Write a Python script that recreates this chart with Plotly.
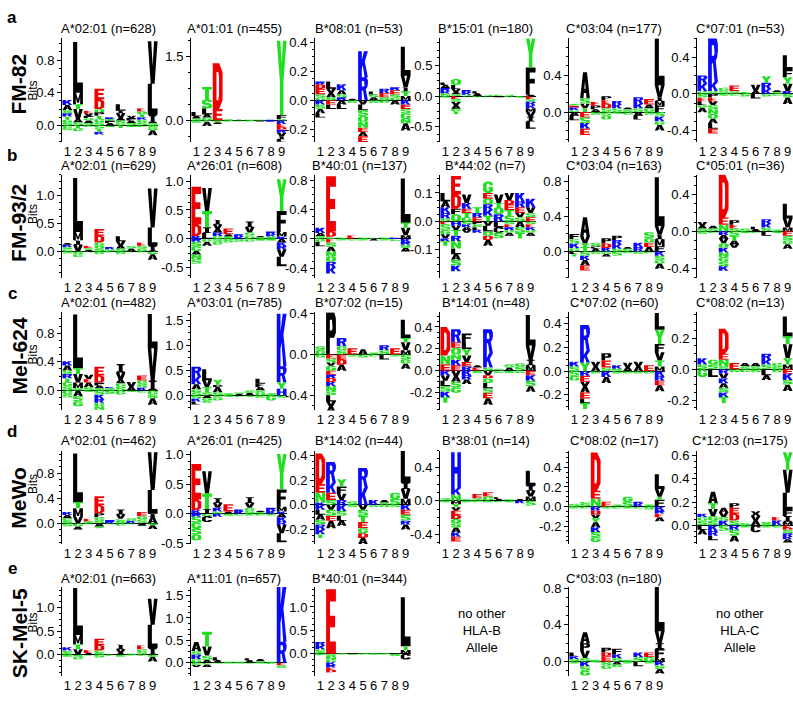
import plotly.graph_objects as go

W, H = 793, 704
FONT = "Liberation Sans, Arial, Helvetica, sans-serif"

# ---------------- data: letter stacks (letter, bits), bottom->top above 0, top->down below 0
A1_POS = [[("S",.04),("G",.03),("T",.04),("R",.04),("S",.04),("A",.06),("K",.06)],
          [("S",.04),("A",.04),("V",.12),("T",.06),("M",.14),("L",.62)],
          [("S",.03),("A",.03),("G",.03),("P",.03),("V",.03),("E",.03)],
          [("S",.04),("G",.04),("T",.04),("P",.04),("Q",.04),("D",.12),("E",.13)],
          [("A",.03),("P",.03),("S",.02),("K",.02)],
          [("G",.03),("S",.03),("A",.03),("V",.06),("I",.03),("L",.08)],
          [("S",.03),("A",.03),("P",.03),("V",.03)],
          [("S",.04),("G",.03),("K",.03),("T",.04),("Q",.03),("E",.04)],
          [("S",.03),("I",.1),("L",.38),("V",.52)]]
A1_NEG = [[("G",.03),("S",.03)],[("T",.03),("G",.04)],[("G",.02)],[("S",.04),("T",.04),("K",.03)],
          [("S",.02)],[("T",.03)],[("S",.02)],[("G",.02)],[("S",.03),("G",.03),("A",.06)]]

A2_POS = [[("S",.05),("A",.05),("L",.1)],
          [("G",.07),("A",.07),("L",.15),("S",.2),("T",.3)],
          [("E",.27),("D",1.08)],
          [("S",.03)],[("A",.02)],[("S",.02)],[("G",.02)],[("K",.02)],
          [("S",.03),("F",.1),("Y",1.75)]]
A2_NEG = [[("S",.05)],[("G",.03),("A",.1)],[("S",.04),("A",.04)],[("S",.02)],[("G",.02)],[("S",.02)],
          [("A",.02)],[("K",.03)],
          [("K",.08),("E",.07),("D",.07),("R",.07),("V",.08),("I",.07),("L",.06)]]

A3_POS = [[("G",.02),("S",.02),("E",.04),("D",.03),("R",.02)],
          [("S",.02),("A",.03),("V",.03),("L",.05)],
          [("R",.02),("S",.02),("A",.03),("K",.04)],
          [("A",.01)],
          [("R",.16),("K",.18)],
          [("A",.02),("S",.02),("L",.02)],
          [("S",.02),("E",.03),("R",.03)],
          [("G",.02),("S",.02),("E",.03),("R",.02)],
          [("M",.03),("T",.03),("I",.03),("V",.08),("L",.2)]]
A3_NEG = [[("K",.03),("S",.03),("A",.03),("L",.03)],[("E",.03),("L",.03)],[("A",.03),("L",.03)],[("S",.02)],
          [("V",.03),("L",.04),("S",.04),("Q",.04),("N",.04),("E",.03),("A",.03),("E",.04)],
          [("S",.02)],[("G",.02)],[("A",.03)],
          [("K",.03),("E",.03),("S",.03),("G",.04),("N",.03),("A",.05)]]

A4_POS = [[("S",.04),("K",.04),("R",.05),("A",.05),("L",.04)],
          [("S",.03),("A",.03),("V",.06),("L",.06),("Q",.1)],
          [("S",.02),("K",.04),("R",.04)],
          [("A",.04),("L",.04)],
          [("S",.02)],[("G",.02)],[("S",.02)],[("A",.01)],
          [("A",.02),("F",.45),("Y",.5)]]
A4_NEG = [[("S",.03)],[("E",.05),("S",.05),("V",.05),("A",.06),("G",.04),("T",.05)],[("S",.02)],
          [("G",.02)],[("S",.02)],[("A",.02)],[("G",.02)],[("S",.03)],
          [("E",.05),("S",.04),("R",.06),("K",.05),("M",.06),("V",.08),("I",.08),("L",.12)]]

A5_POS = [[("G",.02),("K",.03),("E",.02),("S",.02)],
          [("T",.04),("V",.05),("S",.06),("A",.28)],
          [("A",.03),("P",.04),("E",.04)],
          [("S",.04),("D",.05),("E",.04),("P",.04)],
          [("S",.04),("K",.04),("R",.04)],
          [("S",.03),("A",.02)],
          [("S",.04),("K",.05),("R",.07)],
          [("G",.04),("A",.04),("E",.06)],
          [("F",.07),("M",.05),("I",.04),("V",.13),("L",.51)]]
A5_NEG = [[("A",.04),("L",.05)],[("E",.06),("S",.06),("K",.06),("E",.07)],[("S",.03)],[("S",.04),("Q",.04)],
          [("S",.02)],[("G",.03)],[("A",.04),("L",.04)],[("S",.03)],[("S",.05),("K",.05),("G",.04),("A",.06)]]

A6_POS = [[("G",.03),("K",.08),("R",.09)],
          [("S",.03),("K",.1),("R",.48)],
          [("S",.03),("G",.04)],
          [("S",.03),("E",.06)],
          [("S",.02)],
          [("A",.03),("V",.07)],
          [("K",.05),("R",.07),("Y",.07)],
          [("S",.02),("A",.02)],
          [("K",.03),("V",.08),("Y",.07),("F",.08),("L",.16)]]
A6_NEG = [[("S",.04),("E",.04),("L",.04),("G",.03),("A",.05)],
          [("P",.04),("E",.04),("V",.04),("S",.05),("N",.05),("Q",.05),("A",.05),("L",.06),("E",.05)],
          [("S",.02)],[("G",.02)],[("S",.03)],[("L",.05)],[("S",.03)],[("G",.02)],[("S",.04),("A",.07)]]

B1_POS = [[("G",.04),("S",.04),("K",.04),("A",.03)],
          [("V",.12),("I",.08),("M",.15),("L",.97)],
          [("A",.03),("S",.03),("E",.04)],
          [("S",.05),("Q",.05),("G",.06),("D",.12),("E",.12)],
          [("S",.04),("K",.04)],
          [("S",.05),("A",.05),("V",.08),("L",.09)],
          [("A",.05),("S",.05)],
          [("G",.05),("S",.05),("E",.06)],
          [("I",.1),("L",.33),("V",.7)]]
B1_NEG = [[("S",.04)],[("S",.05),("G",.05)],[("S",.02)],[("S",.05)],[("G",.02)],[("S",.05)],
          [("S",.02)],[("G",.02)],[("G",.05),("A",.1)]]

B2_POS = [[("K",.05),("D",.2),("E",.65)],
          [("L",.1),("I",.1),("T",.28),("V",.4)],
          [("G",.05),("R",.06),("A",.06),("V",.08),("I",.08)],
          [("S",.04),("A",.04),("E",.1)],
          [("K",.04),("R",.04)],
          [("G",.06),("S",.05),("V",.09),("I",.1)],
          [("S",.03),("A",.02)],
          [("S",.04),("K",.04),("R",.05)],
          [("K",.04),("M",.08),("F",.36),("Y",.55)]]
B2_NEG = [[("R",.05),("S",.08),("G",.08),("A",.06),("N",.08),("S",.08)],
          [("G",.05),("A",.07)],[("S",.05),("G",.05)],[("S",.06)],[("S",.05)],[("G",.05)],
          [("S",.03)],[("S",.03)],
          [("A",.06),("K",.06),("R",.06),("V",.13),("L",.16)]]

B3_POS = [[("S",.04),("A",.04),("K",.07)],
          [("G",.03),("D",.07),("E",.75)],
          [("S",.02)],[("E",.05)],[("S",.02)],[("G",.02)],[("S",.02)],[("K",.02)],
          [("M",.05),("V",.1),("T",.07),("L",.6)]]
B3_NEG = [[("G",.04),("L",.06)],
          [("E",.05),("S",.06),("A",.06),("N",.07),("Q",.07),("R",.08),("K",.08)],
          [("S",.02)],[("G",.02)],[("S",.02)],[("A",.02)],[("S",.02)],[("G",.03)],
          [("K",.04),("R",.04),("S",.04),("A",.05)]]

B4_POS = [[("S",.01),("R",.02),("K",.02),("A",.02),("L",.03)],
          [("Q",.025),("F",.02),("D",.05),("E",.065)],
          [("G",.015),("T",.015),("E",.015),("K",.02),("V",.03)],
          [("E",.015),("R",.015),("T",.02)],
          [("T",.02),("K",.02),("R",.02),("Q",.02),("E",.02),("G",.04)],
          [("R",.025),("Q",.025),("T",.015),("V",.03)],
          [("S",.02),("T",.02),("E",.02),("D",.015),("V",.025)],
          [("S",.015),("V",.015),("E",.02),("R",.02),("K",.03)],
          [("E",.015),("S",.015),("V",.02),("K",.03)]]
B4_NEG = [[("E",.01),("S",.02),("G",.015),("V",.015),("K",.01),("T",.015)],
          [("H",.015),("V",.015),("T",.02),("R",.02),("N",.025),("L",.02),("A",.02),("S",.02),("K",.02)],
          [("S",.01),("K",.01),("A",.01),("V",.01)],
          [("P",.01),("S",.01),("L",.01),("K",.01)],
          [("V",.015),("L",.02),("Q",.015),("D",.015),("A",.02)],
          [("L",.02),("C",.02),("S",.02)],
          [("S",.01),("E",.01),("R",.01),("G",.01),("A",.01)],
          [("A",.02),("S",.02),("T",.02)],
          [("S",.01),("E",.01),("K",.01),("G",.01),("A",.01)]]

B5_POS = [[("G",.04),("K",.05),("S",.05),("F",.06)],
          [("T",.05),("Y",.04),("V",.08),("A",.22)],
          [("A",.03),("C",.03),("S",.04)],
          [("K",.04),("D",.05),("P",.06)],
          [("S",.03),("K",.05),("R",.05),("P",.05)],
          [("S",.03),("A",.02)],
          [("R",.05),("K",.05)],
          [("A",.05),("E",.05),("G",.05),("S",.07)],
          [("F",.06),("M",.08),("I",.05),("V",.1),("L",.56)]]
B5_NEG = [[("L",.03),("T",.03)],[("S",.05),("K",.05),("A",.06),("E",.06)],[("S",.03)],[("S",.03),("A",.03)],
          [("S",.05)],[("G",.02)],[("S",.03)],[("G",.02)],[("K",.05),("S",.05),("G",.04),("A",.06)]]

B6_POS = [[("S",.03),("A",.03),("V",.04)],
          [("S",.03),("A",.03)],
          [("N",.07),("E",.08),("D",.47)],
          [("S",.03),("E",.04),("P",.05)],
          [("S",.03)],
          [("A",.02),("L",.03)],
          [("S",.04),("K",.04),("R",.05)],
          [("S",.02)],
          [("M",.04),("V",.1),("L",.16)]]
B6_NEG = [[("S",.03)],[("G",.02)],
          [("R",.04),("A",.04),("V",.05),("Q",.05),("K",.05),("N",.05),("G",.05),("S",.05),("K",.05)],
          [("S",.05),("T",.05),("A",.04),("V",.04)],
          [("S",.02)],[("G",.02)],[("L",.05)],[("S",.02)],[("E",.05),("S",.05),("G",.04),("A",.05)]]

C1_POS = [[("S",.06),("G",.06),("T",.05),("R",.06),("S",.05),("A",.07),("K",.06)],
          [("S",.03),("M",.08),("V",.12),("T",.08),("L",.75)],
          [("S",.05),("A",.06),("E",.05),("V",.06)],
          [("S",.03),("A",.04),("P",.04),("D",.1),("E",.12)],
          [("S",.03),("K",.02)],
          [("S",.05),("G",.05),("A",.05),("V",.1),("I",.12)],
          [("A",.05),("V",.07)],
          [("K",.04),("S",.05),("G",.05),("E",.07)],
          [("I",.14),("V",.45),("L",.48)]]
C1_NEG = [[("G",.05),("S",.05)],[("A",.08),("S",.07),("G",.07)],[("S",.02)],
          [("S",.06),("K",.06),("R",.05),("G",.05),("N",.05)],
          [("S",.05)],[("G",.06)],[("S",.02)],[("G",.03)],[("G",.06),("S",.05),("A",.09)]]

C2_POS = [[("S",.06),("G",.06),("A",.1),("K",.15),("R",.2)],
          [("S",.06),("T",.1),("V",.14),("L",.22)],
          [("S",.06),("A",.1),("C",.05),("Y",.1)],
          [("S",.04)],
          [("A",.03),("S",.03)],
          [("A",.05),("S",.05)],
          [("G",.05),("S",.05),("A",.06),("F",.07),("L",.1)],
          [("S",.04)],
          [("H",.13),("Y",.13),("R",.32),("K",1.05)]]
C2_NEG = [[("S",.06),("K",.06),("L",.06)],[("A",.05),("G",.05),("S",.05)],[("S",.05),("G",.05)],
          [("S",.03)],[("G",.03)],[("S",.03)],[("S",.05)],[("G",.1)],[("S",.05)]]

C3_POS = [[("G",.04),("S",.04)],
          [("P",.41)],
          [("S",.04),("G",.04),("R",.08)],
          [("E",.06)],
          [("A",.05)],
          [("S",.02)],
          [("S",.04),("R",.05)],
          [("E",.06)],
          [("M",.04),("V",.08),("T",.04),("L",.18)]]
C3_NEG = [[("S",.03)],
          [("E",.04),("S",.04),("V",.03),("G",.05),("E",.04),("R",.03),("D",.04),("K",.04),("N",.05),
           ("S",.04),("L",.06),("V",.05),("A",.06)],
          [("E",.05),("D",.05),("A",.06)],
          [("S",.02)],[("S",.03)],[("G",.02)],[("L",.05)],[("S",.02)],[("S",.05),("G",.04),("A",.05)]]

C4_POS = [[("E",.06),("N",.08),("D",.26)],
          [("E",.05),("K",.05),("N",.05),("Q",.06),("E",.05),("R",.12)],
          [("R",.04),("E",.04),("V",.06),("Y",.06),("L",.06),("F",.08)],
          [("E",.03),("A",.02)],
          [("S",.03),("K",.13),("R",.22)],
          [("S",.02)],
          [("A",.03),("S",.03)],
          [("S",.04),("G",.03)],
          [("M",.05),("I",.05),("V",.13),("L",.28)]]
C4_NEG = [[("K",.04),("V",.05),("L",.05),("S",.05),("K",.05),("T",.05)],
          [("V",.05),("A",.05),("S",.05),("G",.05)],
          [("K",.04),("R",.04),("A",.04)],
          [("S",.02)],
          [("V",.04),("D",.03),("Q",.04),("L",.05),("S",.04),("E",.05),("A",.06)],
          [("G",.02)],[("S",.02)],[("G",.02)],
          [("E",.04),("K",.05),("S",.05),("A",.05)]]

C5_POS = [[("S",.04),("K",.04)],
          [("Y",.07),("K",.1),("R",.22)],
          [("A",.04),("V",.04)],
          [("S",.03),("E",.06),("P",.06)],
          [("S",.02),("K",.03)],
          [("A",.03),("V",.04)],
          [("A",.04),("V",.04)],
          [("E",.05)],
          [("M",.04),("T",.05),("V",.07),("F",.07),("Y",.12),("L",.14)]]
C5_NEG = [[("S",.04),("G",.04)],
          [("R",.04),("E",.05),("V",.04),("A",.05),("E",.05),("L",.04),("T",.05)],
          [("S",.02)],[("K",.05),("A",.05)],[("S",.02)],[("G",.02)],[("S",.02)],[("G",.02)],
          [("K",.04),("R",.04),("E",.04),("A",.05)]]

C6_POS = [[("S",.03),("K",.04)],
          [("S",.03),("G",.03)],
          [("S",.02),("N",.04),("E",.04),("D",.16)],
          [("E",.04)],
          [("S",.02),("A",.02)],
          [("S",.02),("A",.02)],
          [("S",.03),("K",.03),("R",.04)],
          [("S",.02),("G",.02)],
          [("M",.03),("Y",.04),("V",.09),("T",.05),("L",.13)]]
C6_NEG = [[("G",.05)],[("L",.05)],
          [("R",.03),("V",.03),("K",.03),("A",.03),("S",.03),("K",.03),("T",.04)],
          [("S",.02)],[("G",.02)],[("S",.02)],[("L",.04),("A",.03)],[("S",.02)],
          [("E",.03),("K",.04),("S",.03),("A",.04)]]

D1_POS = [[("S",.04),("G",.04),("A",.05),("K",.05)],
          [("V",.1),("M",.14),("T",.1),("L",.77)],
          [("S",.03),("E",.04)],
          [("S",.05),("G",.05),("P",.06),("D",.13),("E",.14)],
          [("K",.03),("R",.02)],
          [("S",.04),("G",.03),("V",.07),("I",.08)],
          [("K",.04),("S",.04)],
          [("S",.06),("G",.05),("E",.07)],
          [("A",.1),("I",.05),("L",.38),("V",.6)]]
D1_NEG = [[("S",.05)],[("G",.05),("A",.05)],[("S",.02)],[("A",.05),("S",.03)],[("S",.02)],[("G",.04)],
          [("S",.02)],[("A",.04)],[("S",.03),("A",.06)]]

D2_POS = [[("K",.06),("D",.18),("E",.6)],
          [("I",.08),("T",.26),("V",.38)],
          [("S",.04),("K",.06),("V",.08),("I",.08)],
          [("A",.04),("E",.12)],
          [("K",.04),("R",.03)],
          [("S",.05),("G",.05),("V",.08),("I",.1)],
          [("S",.03),("A",.02)],
          [("K",.05),("R",.05)],
          [("K",.04),("M",.08),("F",.29),("Y",.6)]]
D2_NEG = [[("R",.05),("S",.1),("G",.1),("S",.1),("Q",.1)],
          [("G",.04),("C",.1)],[("K",.05)],[("S",.04)],[("G",.03)],[("S",.03)],[("G",.03)],[("S",.03)],
          [("A",.06),("K",.07),("R",.06),("V",.14),("L",.15)]]

D3_POS = [[("K",.02),("N",.08),("E",.07),("D",.25)],
          [("S",.04),("E",.06),("K",.08),("R",.17)],
          [("R",.04),("V",.05),("F",.06),("Y",.06)],
          [("S",.03)],
          [("K",.14),("R",.16)],
          [("K",.04)],
          [("S",.02),("A",.02)],
          [("S",.05),("G",.05)],
          [("M",.05),("V",.08),("I",.05),("L",.26)]]
D3_NEG = [[("K",.04),("L",.04),("A",.04),("S",.04),("R",.04),("K",.04),("T",.03)],
          [("V",.04),("S",.05),("E",.04),("A",.06)],
          [("K",.05),("S",.04),("L",.04),("A",.04)],
          [("S",.02)],
          [("V",.04),("S",.05),("T",.05),("E",.05),("G",.04),("D",.04),("A",.05)],
          [("S",.02)],[("G",.02)],[("S",.02)],
          [("K",.04),("E",.04),("S",.05),("R",.03),("A",.04)]]

D4_POS = [[("S",.03)],
          [("N",.07),("K",.08),("H",.43)],
          [("S",.02)],
          [("S",.03),("E",.05)],
          [("G",.05),("E",.05)],
          [("A",.02),("L",.02)],
          [("S",.02)],
          [("A",.02)],
          [("M",.05),("V",.07),("I",.06),("L",.18)]]
D4_NEG = [[("S",.02)],
          [("M",.04),("Y",.04),("V",.04),("E",.05),("D",.05),("Q",.05),("S",.05),("A",.06),("K",.05),("E",.06)],
          [("S",.02)],[("G",.02)],[("S",.02)],[("G",.02)],[("S",.02)],[("K",.03)],[("S",.06)]]

D5_POS = [[("S",.03)],
          [("S",.03),("G",.02)],
          [("N",.08),("E",.08),("D",.39)],
          [("E",.05)],
          [("S",.02)],
          [("S",.05),("G",.05)],
          [("K",.03),("R",.02)],
          [("S",.02)],
          [("F",.07),("T",.03),("V",.08),("L",.15)]]
D5_NEG = [[("S",.02)],[("G",.02)],
          [("R",.04),("D",.04),("V",.04),("Y",.04),("A",.05),("K",.05),("S",.05),("G",.05)],
          [("S",.02)],[("G",.02)],[("S",.02)],[("G",.02)],[("S",.03)],
          [("K",.04),("R",.03),("E",.04),("A",.04)]]

D6_POS = [[("S",.04),("G",.03),("K",.03)],
          [("S",.04),("G",.04),("V",.06),("T",.05),("A",.1)],
          [("K",.04),("S",.03),("V",.04),("A",.04)],
          [("S",.04),("D",.06),("E",.05),("P",.04)],
          [("S",.02)],
          [("A",.04),("V",.04),("X",.04)],
          [("S",.03)],
          [("K",.04),("E",.03)],
          [("M",.03),("I",.05),("F",.05),("L",.15),("V",.2),("Y",.15)]]
D6_NEG = [[("L",.04),("A",.04)],[("K",.05),("R",.04),("L",.04)],[("S",.05)],[("R",.04),("S",.05),("A",.05)],
          [("S",.02)],[("C",.06)],[("S",.02)],[("G",.02)],
          [("E",.02),("D",.02),("S",.03),("R",.03),("K",.02),("A",.03)]]

E1_POS = [[("S",.05),("G",.04),("K",.07)],
          [("V",.12),("T",.1),("M",.2),("L",1.0)],
          [("A",.04),("E",.06)],
          [("S",.04),("G",.05),("D",.12),("E",.13)],
          [("S",.02)],
          [("A",.04),("V",.08),("I",.1)],
          [("S",.03)],
          [("S",.06),("G",.06),("E",.08)],
          [("I",.14),("L",.5),("V",.55)]]
E1_NEG = [[("S",.04)],[("S",.05),("G",.05)],[("S",.02)],[("S",.06)],[("G",.02)],[("S",.04)],
          [("S",.02)],[("G",.02)],[("S",.04),("A",.1)]]

E2_POS = [[("G",.08),("R",.1),("S",.08),("A",.2)],
          [("A",.06),("S",.1),("V",.2),("T",.33)],
          [("A",.05),("L",.07)],
          [("S",.02)],[("S",.02)],
          [("A",.05),("L",.05)],
          [("S",.03),("A",.05)],
          [("S",.02)],
          [("R",.47),("K",1.25)]]
E2_NEG = [[("S",.05),("V",.05)],[("G",.04),("A",.06)],[("S",.02)],[("G",.02)],[("S",.02)],[("G",.02)],
          [("S",.02)],[("S",.03)],[("E",.06),("S",.06)]]

E3_POS = [[("S",.05),("G",.05),("K",.08),("R",.07)],
          [("E",1.38)],
          [("S",.02)],[("A",.02)],[("S",.02)],[("G",.02)],[("S",.02)],[("A",.02)],
          [("M",.08),("T",.08),("L",1.05)]]
E3_NEG = [[("S",.03)],
          [("S",.07),("N",.05),("G",.06),("K",.06),("R",.05),("E",.05),("D",.06)],
          [("S",.02)],[("G",.02)],[("S",.02)],[("G",.02)],[("S",.02)],[("S",.05)],[("C",.12)]]

E5_POS = [[("S",.03),("K",.03),("L",.04)],
          [("S",.04),("V",.08),("P",.08),("A",.12)],
          [("S",.02)],
          [("E",.06),("D",.04),("P",.05)],
          [("S",.04),("K",.04),("F",.06)],
          [("S",.02)],
          [("S",.05),("K",.05)],
          [("G",.05),("E",.05)],
          [("M",.04),("F",.1),("I",.06),("V",.13),("L",.5)]]
E5_NEG = [[("S",.02)],[("K",.05),("S",.05),("G",.05)],[("S",.01)],[("S",.04),("G",.04)],[("A",.03),("S",.03)],
          [("S",.02)],[("L",.05)],[("S",.02)],[("K",.04),("S",.04),("A",.05)]]

ROW_TAGS = ["a", "b", "c", "d", "e"]
ROW_NAMES = ["FM-82", "FM-93/2", "Mel-624", "MeWo", "SK-Mel-5"]
TITLES_A = ["A*02:01 (n=628)", "A*01:01 (n=455)", "B*08:01 (n=53)", "B*15:01 (n=180)", "C*03:04 (n=177)", "C*07:01 (n=53)"]
TITLES_B = ["A*02:01 (n=629)", "A*26:01 (n=608)", "B*40:01 (n=137)", "B*44:02 (n=7)", "C*03:04 (n=163)", "C*05:01 (n=36)"]
TITLES_C = ["A*02:01 (n=482)", "A*03:01 (n=785)", "B*07:02 (n=15)", "B*14:01 (n=48)", "C*07:02 (n=60)", "C*08:02 (n=13)"]
TITLES_D = ["A*02:01 (n=462)", "A*26:01 (n=425)", "B*14:02 (n=44)", "B*38:01 (n=14)", "C*08:02 (n=17)", "C*12:03 (n=175)"]
TITLES_E = ["A*02:01 (n=663)", "A*11:01 (n=657)", "B*40:01 (n=344)", None, "C*03:03 (n=180)", None]
NO_ALLELE = {3: "no other<br>HLA-B<br>Allele", 5: "no other<br>HLA-C<br>Allele"}
POSITIONS = list(range(1, 10))

# ---------------- layout geometry (pixels)
COL_LEFT = [62, 191, 315, 440, 569, 697]
TITLE_X = [108, 234, 359, 486, 614, 740]
NOTE_X = [None, None, None, 482, None, 740]
PANEL_W = 96
ROW_TOP = [33, 172, 312, 453, 592]
ROW_BOT = [139, 277, 412, 548, 683]
TITLE_Y = [23, 163, 302, 443, 583]
TAG_Y = [12, 152, 293, 433, 573]
NAME_Y = [80, 221, 357, 502, 639]
BITS_Y = [86, 212, 355, 487, 628]

# (row, col, titles, pos, neg, zero pixel, px per bit, tick values)
PANELS = [
    (0, 0, TITLES_A, A1_POS, A1_NEG, 121.7, 83.3, [0, 0.4, 0.8]),
    (0, 1, TITLES_A, A2_POS, A2_NEG, 116.7, 43.3, [0, 1.5]),
    (0, 2, TITLES_A, A3_POS, A3_NEG, 96.0, 147.0, [-0.2, 0, 0.2, 0.4]),
    (0, 3, TITLES_A, A4_POS, A4_NEG, 91.7, 62.0, [-0.5, 0, 0.5]),
    (0, 4, TITLES_A, A5_POS, A5_NEG, 108.0, 94.0, [0, 0.4, 0.8]),
    (0, 5, TITLES_A, A6_POS, A6_NEG, 89.5, 93.7, [-0.4, 0, 0.4]),
    (1, 0, TITLES_B, B1_POS, B1_NEG, 250.0, 56.7, [0, 0.5, 1.0]),
    (1, 1, TITLES_B, B2_POS, B2_NEG, 237.3, 59.0, [-0.5, 0, 0.5, 1.0]),
    (1, 2, TITLES_B, B3_POS, B3_NEG, 237.3, 75.0, [-0.4, 0, 0.4, 0.8]),
    (1, 3, TITLES_B, B4_POS, B4_NEG, 219.5, 290.0, [-0.1, 0, 0.1]),
    (1, 4, TITLES_B, B5_POS, B5_NEG, 250.0, 89.0, [0, 0.4, 0.8]),
    (1, 5, TITLES_B, B6_POS, B6_NEG, 229.5, 93.7, [-0.4, 0, 0.4]),
    (2, 0, TITLES_C, C1_POS, C1_NEG, 391.7, 72.9, [0, 0.4, 0.8]),
    (2, 1, TITLES_C, C2_POS, C2_NEG, 396.7, 51.0, [0, 0.5, 1.0, 1.5]),
    (2, 2, TITLES_C, C3_POS, C3_NEG, 355.0, 104.0, [-0.4, 0, 0.4]),
    (2, 3, TITLES_C, C4_POS, C4_NEG, 371.7, 111.7, [-0.2, 0, 0.2, 0.4]),
    (2, 4, TITLES_C, C5_POS, C5_NEG, 372.0, 120.7, [-0.2, 0, 0.2, 0.4]),
    (2, 5, TITLES_C, C6_POS, C6_NEG, 370.0, 158.0, [-0.2, 0, 0.2]),
    (3, 0, TITLES_D, D1_POS, D1_NEG, 527.0, 64.0, [0, 0.4, 0.8]),
    (3, 1, TITLES_D, D2_POS, D2_NEG, 517.3, 60.3, [-0.5, 0, 0.5, 1.0]),
    (3, 2, TITLES_D, D3_POS, D3_NEG, 508.3, 125.0, [-0.2, 0, 0.2, 0.4]),
    (3, 3, TITLES_D, D4_POS, D4_NEG, 504.0, 85.0, [-0.4, 0, 0.4]),
    (3, 4, TITLES_D, D5_POS, D5_NEG, 510.0, 100.0, [-0.4, -0.2, 0, 0.2, 0.4]),
    (3, 5, TITLES_D, D6_POS, D6_NEG, 529.0, 118.0, [0, 0.2, 0.4, 0.6]),
    (4, 0, TITLES_E, E1_POS, E1_NEG, 661.0, 48.0, [0, 0.5, 1.0]),
    (4, 1, TITLES_E, E2_POS, E2_NEG, 669.0, 45.5, [0, 0.5, 1.0, 1.5]),
    (4, 2, TITLES_E, E3_POS, E3_NEG, 660.0, 47.7, [-0.5, 0, 0.5, 1.0]),
    (4, 4, TITLES_E, E5_POS, E5_NEG, 668.0, 93.7, [0, 0.4, 0.8]),
]

# ---------------- colours and glyphs (unit-box outlines, bold condensed style)
BLACK, RED, BLUE, GREEN = "#000000", "#f00000", "#0a0aff", "#1fe01f"
LETTER_COLOR = {}
for ch in "AVLIMFWPCX":
    LETTER_COLOR[ch] = BLACK
for ch in "DE":
    LETTER_COLOR[ch] = RED
for ch in "KRH":
    LETTER_COLOR[ch] = BLUE
for ch in "STYNQG":
    LETTER_COLOR[ch] = GREEN

OCT_HOLE = [(.42,.2),(.58,.2),(.64,.3),(.64,.7),(.58,.8),(.42,.8),(.36,.7),(.36,.3)]
GLYPHS = {
    "L": ([[(0,0),(1,0),(1,.2),(.42,.2),(.42,1),(0,1)]], []),
    "I": ([[(.1,0),(.9,0),(.9,.16),(.7,.16),(.7,.84),(.9,.84),(.9,1),(.1,1),(.1,.84),(.3,.84),(.3,.16),(.1,.16)]], []),
    "T": ([[(.3,0),(.7,0),(.7,.8),(1,.8),(1,1),(0,1),(0,.8),(.3,.8)]], []),
    "E": ([[(0,0),(1,0),(1,.19),(.4,.19),(.4,.41),(.92,.41),(.92,.59),(.4,.59),(.4,.81),(1,.81),(1,1),(0,1)]], []),
    "F": ([[(0,0),(.4,0),(.4,.41),(.92,.41),(.92,.59),(.4,.59),(.4,.81),(1,.81),(1,1),(0,1)]], []),
    "H": ([[(0,0),(.36,0),(.36,.41),(.64,.41),(.64,0),(1,0),(1,1),(.64,1),(.64,.59),(.36,.59),(.36,1),(0,1)]], []),
    "V": ([[(.3,0),(.7,0),(1,1),(.64,1),(.5,.42),(.36,1),(0,1)]], []),
    "A": ([[(0,0),(.34,0),(.39,.2),(.61,.2),(.66,0),(1,0),(.7,1),(.3,1)]], [[(.43,.36),(.57,.36),(.5,.66)]]),
    "K": ([[(0,0),(.38,0),(.38,.33),(.48,.46),(.66,0),(1,0),(.68,.6),(1,1),(.6,1),(.38,.66),(.38,1),(0,1)]], []),
    "R": ([[(0,0),(.38,0),(.38,.42),(.5,.42),(.66,0),(1,0),(.78,.48),(.92,.55),(1,.7),(1,.86),(.86,1),(0,1)]],
          [[(.38,.59),(.6,.59),(.66,.65),(.66,.77),(.6,.83),(.38,.83)]]),
    "P": ([[(0,0),(.38,0),(.38,.4),(.82,.4),(1,.52),(1,.86),(.84,1),(0,1)]],
          [[(.38,.57),(.6,.57),(.66,.63),(.66,.77),(.6,.83),(.38,.83)]]),
    "D": ([[(0,0),(.65,0),(1,.2),(1,.8),(.65,1),(0,1)]],
          [[(.38,.19),(.56,.19),(.64,.3),(.64,.7),(.56,.81),(.38,.81)]]),
    "Q": ([[(.3,0),(.68,0),(.8,.06),(.92,0),(1,.1),(.92,.18),(1,.3),(1,.8),(.7,1),(.3,1),(0,.8),(0,.2)]], [OCT_HOLE]),
    "C": ([[(.3,0),(.75,0),(1,.17),(1,.33),(.66,.33),(.6,.2),(.42,.2),(.36,.3),(.36,.7),(.42,.8),(.6,.8),
            (.66,.67),(1,.67),(1,.83),(.75,1),(.3,1),(0,.8),(0,.2)]], []),
    "G": ([[(.3,0),(.75,0),(1,.17),(1,.52),(.55,.52),(.55,.38),(.66,.38),(.64,.3),(.58,.2),(.42,.2),(.36,.3),
            (.36,.7),(.42,.8),(.6,.8),(.66,.67),(1,.67),(1,.83),(.75,1),(.3,1),(0,.8),(0,.2)]], []),
    "S": ([[(0,.3),(0,.12),(.15,0),(.85,0),(1,.12),(1,.45),(.86,.56),(.4,.62),(.36,.66),(.36,.78),(.4,.81),
            (.62,.81),(.64,.72),(1,.72),(1,.88),(.85,1),(.15,1),(0,.88),(0,.56),(.14,.44),(.6,.38),(.64,.34),
            (.64,.22),(.6,.19),(.4,.19),(.36,.3)]], []),
    "N": ([[(0,0),(.32,0),(.32,.55),(.66,0),(1,0),(1,1),(.68,1),(.68,.45),(.34,1),(0,1)]], []),
    "M": ([[(0,0),(.28,0),(.28,.6),(.4,.12),(.6,.12),(.72,.6),(.72,0),(1,0),(1,1),(.7,1),(.5,.4),(.3,1),(0,1)]], []),
    "W": ([[(.16,0),(.42,0),(.5,.45),(.58,0),(.84,0),(1,1),(.76,1),(.7,.45),(.62,1),(.38,1),(.3,.45),(.24,1),(0,1)]], []),
    "Y": ([[(.32,0),(.68,0),(.68,.45),(1,1),(.64,1),(.5,.7),(.36,1),(0,1),(.32,.45)]], []),
    "X": ([[(0,0),(.34,0),(.5,.3),(.66,0),(1,0),(.7,.5),(1,1),(.66,1),(.5,.7),(.34,1),(0,1),(.3,.5)]], []),
}
HALF_W = 0.46


def add_poly(buf, poly, xc, y0, h):
    xs, ys = buf
    for u, v in poly + [poly[0]]:
        xs.append(xc - HALF_W + 2 * HALF_W * u)
        ys.append(y0 + v * h)
    xs.append(None)
    ys.append(None)


fig = go.Figure()
layout = dict(width=W, height=H, margin=dict(l=0, r=0, t=0, b=0), paper_bgcolor="white",
              plot_bgcolor="white", showlegend=False, font=dict(family=FONT, color="black", size=13))
annotations = []

for n, (r, c, titles, pos, neg, zpx, scale, ticks) in enumerate(PANELS, start=1):
    xa = "x" if n == 1 else f"x{n}"
    ya = "y" if n == 1 else f"y{n}"
    bufs = {col: ([], []) for col in (BLACK, RED, BLUE, GREEN)}
    holes = ([], [])
    for i, p in enumerate(POSITIONS):
        y = 0.0
        for letter, h in pos[i]:
            outer, hl = GLYPHS[letter]
            for poly in outer:
                add_poly(bufs[LETTER_COLOR[letter]], poly, p, y, h)
            for poly in hl:
                add_poly(holes, poly, p, y, h)
            y += h
        y = 0.0
        for letter, h in neg[i]:
            y -= h
            outer, hl = GLYPHS[letter]
            for poly in outer:
                add_poly(bufs[LETTER_COLOR[letter]], poly, p, y, h)
            for poly in hl:
                add_poly(holes, poly, p, y, h)
    for col, (xs, ys) in bufs.items():
        if xs:
            fig.add_trace(go.Scatter(x=xs, y=ys, mode="lines", fill="toself", fillcolor=col,
                                     line=dict(width=0, color=col), hoverinfo="skip",
                                     xaxis=xa, yaxis=ya))
    if holes[0]:
        fig.add_trace(go.Scatter(x=holes[0], y=holes[1], mode="lines", fill="toself", fillcolor="white",
                                 line=dict(width=0, color="white"), hoverinfo="skip", xaxis=xa, yaxis=ya))

    top, bot = ROW_TOP[r], ROW_BOT[r]
    ymax = (zpx - top) / scale
    ymin = -(bot - zpx) / scale
    x0 = COL_LEFT[c]
    step = ticks[1] - ticks[0]
    layout["xaxis" if n == 1 else f"xaxis{n}"] = dict(
        domain=[x0 / W, (x0 + PANEL_W) / W], range=[0.5, 9.5], anchor=ya,
        tickmode="array", tickvals=POSITIONS, ticktext=[str(v) for v in POSITIONS],
        ticks="", showline=False, showgrid=False, zeroline=False, fixedrange=True,
        tickfont=dict(size=13, family=FONT, color="black"))
    layout["yaxis" if n == 1 else f"yaxis{n}"] = dict(
        domain=[1 - bot / H, 1 - top / H], range=[ymin, ymax], anchor=xa,
        tickmode="array", tickvals=ticks, ticktext=[f"{v:.1f}" for v in ticks],
        ticks="outside", ticklen=4, tickwidth=1, tickcolor="black",
        showline=True, linecolor="black", linewidth=1, showgrid=False,
        zeroline=True, zerolinecolor="black", zerolinewidth=1, fixedrange=True,
        tickfont=dict(size=13, family=FONT, color="black"),
        minor=dict(tickmode="linear", tick0=0, dtick=step / 4, ticks="outside", ticklen=2,
                   tickcolor="black", tickwidth=1, showgrid=False))
    annotations.append(dict(x=TITLE_X[c] / W, y=1 - TITLE_Y[r] / H, xref="paper", yref="paper",
                            text=titles[c], showarrow=False, xanchor="center", yanchor="middle",
                            font=dict(size=13, family=FONT, color="black")))

for r in range(5):
    annotations.append(dict(x=12 / W, y=1 - TAG_Y[r] / H, xref="paper", yref="paper",
                            text=f"<b>{ROW_TAGS[r]}</b>", showarrow=False, xanchor="center",
                            yanchor="middle", font=dict(size=17, family=FONT, color="black")))
    annotations.append(dict(x=19 / W, y=1 - NAME_Y[r] / H, xref="paper", yref="paper",
                            text=f"<b>{ROW_NAMES[r]}</b>", showarrow=False, textangle=-90,
                            xanchor="center", yanchor="middle", font=dict(size=21, family=FONT, color="black")))
    annotations.append(dict(x=33 / W, y=1 - BITS_Y[r] / H, xref="paper", yref="paper",
                            text="Bits", showarrow=False, textangle=-90, xanchor="center",
                            yanchor="middle", font=dict(size=12, family=FONT, color="black")))

for c, txt in NO_ALLELE.items():
    annotations.append(dict(x=NOTE_X[c] / W, y=1 - 636 / H, xref="paper", yref="paper",
                            text=txt, showarrow=False, xanchor="center", yanchor="middle",
                            font=dict(size=13, family=FONT, color="black")))

layout["annotations"] = annotations
fig.update_layout(**layout)
fig.write_html("out.html", config={"displayModeBar": False},
               post_script="document.body.style.margin='0';document.body.style.padding='0';")
